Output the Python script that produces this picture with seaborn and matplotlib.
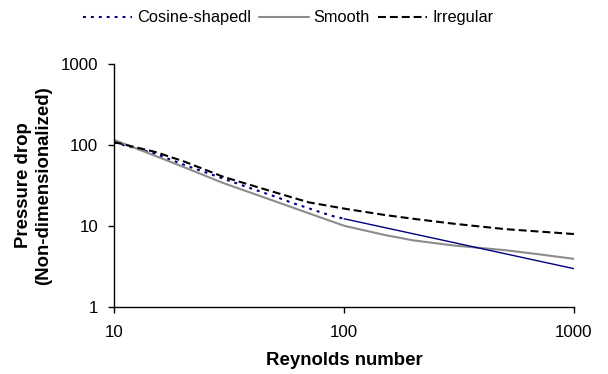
import matplotlib
matplotlib.use("Agg")
import matplotlib.pyplot as plt
import seaborn as sns
from matplotlib.ticker import FixedLocator, NullLocator, FixedFormatter

# ---- data ----
re_cos = [10, 15, 20, 30, 40, 50, 60, 70, 80, 90, 100]
dp_cos = [107, 78, 57, 38, 28.5, 23, 19, 16.5, 14.5, 13.1, 12.2]

re_cos_fit = [100, 1000]
dp_cos_fit = [12.2, 2.95]

re_smooth = [10, 15, 20, 30, 50, 70, 100, 150, 200, 300, 500, 700, 1000]
dp_smooth = [115, 73.5, 53.3, 33.5, 20.1, 14.3, 10.0, 7.7, 6.6, 5.7, 5.0, 4.45, 3.9]

re_irr = [10, 15, 20, 30, 50, 70, 100, 150, 200, 300, 500, 700, 1000]
dp_irr = [108, 82, 62.7, 40, 25.9, 19.5, 16.3, 13.6, 12.2, 10.6, 9.1, 8.5, 7.9]

labels = ["Cosine-shapedl", "Smooth", "Irregular"]
x_ticks = [10, 100, 1000]
y_ticks = [1, 10, 100, 1000]

sns.set_style("white")
plt.rcParams["font.family"] = ["Liberation Sans", "DejaVu Sans"]
plt.rcParams["text.color"] = "black"
plt.rcParams["axes.labelcolor"] = "black"

fig = plt.figure(figsize=(6.08, 3.74), dpi=100)
ax = fig.add_axes([0.188, 0.18, 0.756, 0.649])

sns.lineplot(x=re_cos, y=dp_cos, ax=ax, color="#000080", lw=1.5,
             linestyle=(0, (1.4, 2.4)), label=labels[0])
sns.lineplot(x=re_smooth, y=dp_smooth, ax=ax, color="#8c8c8c", lw=1.5,
             label=labels[1])
sns.lineplot(x=re_irr, y=dp_irr, ax=ax, color="black", lw=1.5,
             linestyle=(0, (3.8, 1.9)), label=labels[2])
sns.lineplot(x=re_cos_fit, y=dp_cos_fit, ax=ax, color="#000080", lw=1.0)

ax.set_xscale("log")
ax.set_yscale("log")
ax.set_xlim(10, 1000)
ax.set_ylim(1, 1000)
ax.xaxis.set_major_locator(FixedLocator(x_ticks))
ax.xaxis.set_major_formatter(FixedFormatter([str(v) for v in x_ticks]))
ax.xaxis.set_minor_locator(NullLocator())
ax.yaxis.set_major_locator(FixedLocator(y_ticks))
ax.yaxis.set_major_formatter(FixedFormatter([str(v) for v in y_ticks]))
ax.yaxis.set_minor_locator(NullLocator())

ax.tick_params(axis="both", which="major", direction="out", length=4.5,
               width=1, color="black", labelsize=12.2, labelcolor="black",
               bottom=True, left=True)
ax.tick_params(axis="x", pad=9)
ax.tick_params(axis="y", pad=7)

for side in ["top", "right"]:
    ax.spines[side].set_visible(False)
for side in ["left", "bottom"]:
    ax.spines[side].set_color("black")
    ax.spines[side].set_linewidth(1.0)

ax.set_xlabel("Reynolds number", fontsize=13.4, fontweight="bold", labelpad=8)
ax.set_ylabel("Pressure drop\n(Non-dimensionalized)", fontsize=13.4,
              fontweight="bold", labelpad=6, linespacing=1.25)

handles, lbls = ax.get_legend_handles_labels()
if ax.legend_:
    ax.legend_.remove()
fig.legend(handles[:3], lbls[:3], loc="center", bbox_to_anchor=(0.474, 0.952),
           ncol=3, frameon=False, fontsize=11.8, handlelength=3.0,
           handletextpad=0.3, columnspacing=0.5, borderaxespad=0)

ax.grid(False)
fig.savefig("out.png", dpi=100)
